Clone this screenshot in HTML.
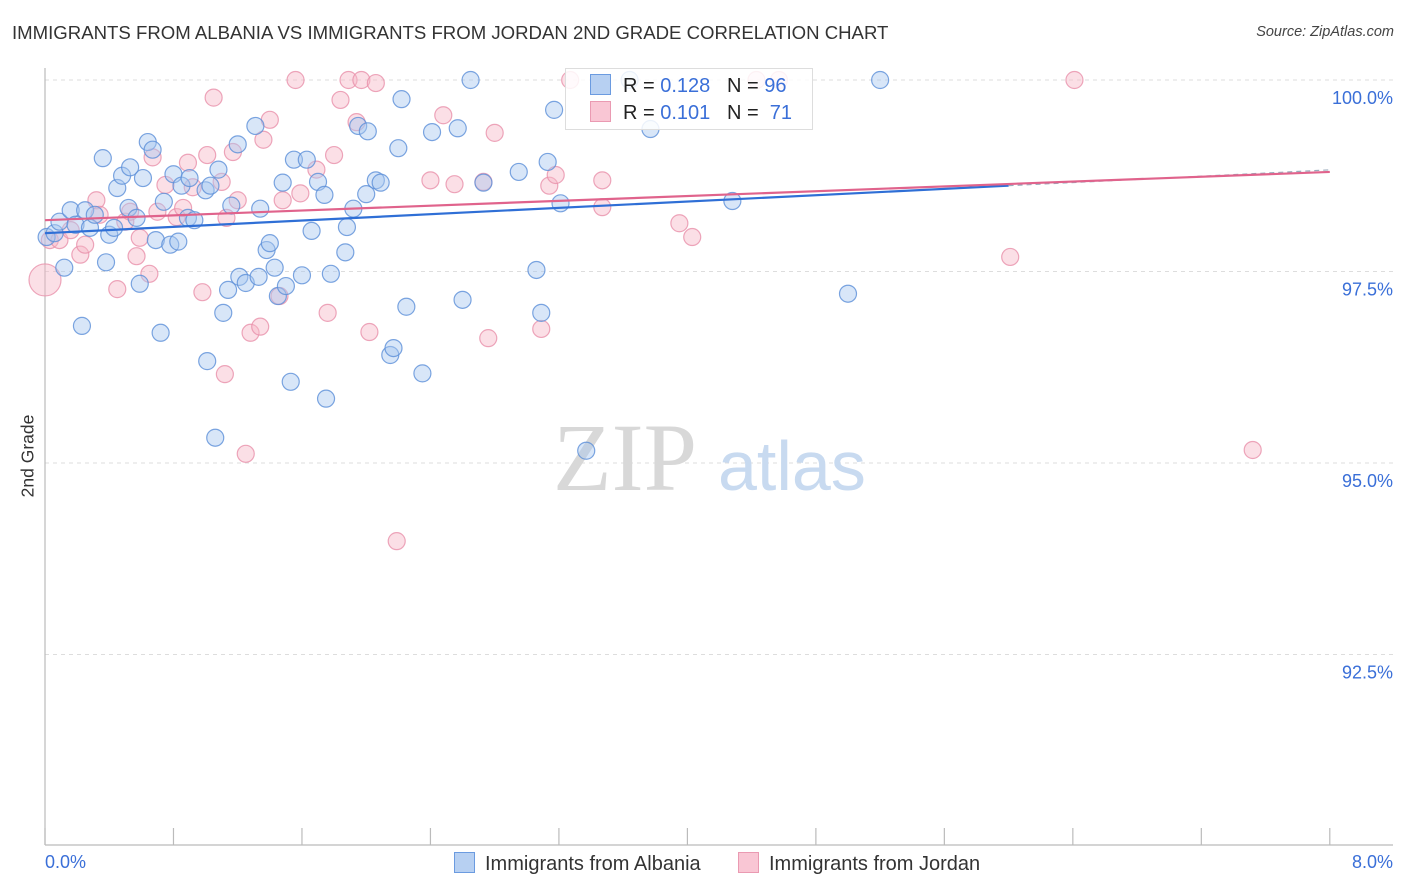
<!DOCTYPE html>
<html><head><meta charset="utf-8">
<style>
body{margin:0;background:#fff;font-family:"Liberation Sans",sans-serif;}
#wrap{position:relative;width:1406px;height:892px;overflow:hidden;}
.t{position:absolute;white-space:nowrap;}
</style></head>
<body>
<div id="wrap">
<div class="t" style="left:12px;top:22px;font-size:18.6px;color:#333;">IMMIGRANTS FROM ALBANIA VS IMMIGRANTS FROM JORDAN 2ND GRADE CORRELATION CHART</div>
<div class="t" style="right:12px;top:24px;font-size:14.5px;color:#444;font-style:italic;">Source: ZipAtlas.com</div>
<svg id="svg" width="1406" height="892" style="position:absolute;left:0;top:0"></svg>
</div>
<script>
const blueX=[.01,.06,.09,.12,.16,.19,.23,.25,.28,.31,.36,.38,.40,.43,.45,.48,.52,.53,.57,.59,.61,.64,.67,.69,.72,.74,.78,.80,.83,.85,.89,.90,.93,1.00,1.03,1.01,1.06,1.08,1.11,1.14,1.16,1.20,1.21,1.25,1.31,1.33,1.34,1.38,1.40,1.43,1.45,1.48,1.50,1.53,1.55,1.60,1.63,1.66,1.70,1.74,1.75,1.78,1.87,1.88,1.92,1.95,2.00,2.01,2.06,2.09,2.15,2.17,2.20,2.22,2.25,2.35,2.41,2.57,2.60,2.65,2.73,2.95,3.06,3.09,3.13,3.17,3.21,3.37,3.77,4.28,5.00,5.20,3.64];
const blueY=[97.95,98.00,98.15,97.55,98.30,98.11,96.79,98.30,98.07,98.24,98.98,97.62,97.98,98.07,98.59,98.75,98.33,98.86,98.20,97.34,98.72,99.19,99.09,97.91,96.70,98.41,97.85,98.77,97.89,98.62,98.20,98.72,98.17,98.56,98.62,96.33,95.33,98.83,96.96,97.26,98.36,99.16,97.43,97.35,99.40,97.43,98.32,97.78,97.87,97.55,97.18,98.66,97.31,96.06,98.96,97.45,98.96,98.03,98.67,98.50,95.84,97.47,97.75,98.08,98.32,99.40,98.51,99.33,98.69,98.66,96.41,96.50,99.11,99.75,97.04,96.17,99.32,99.37,97.13,100.0,98.66,98.80,97.52,96.96,98.93,99.61,98.39,95.16,99.36,98.42,97.21,100.0,100.0];
const pinkX=[.03,.09,.16,.22,.25,.32,.34,.45,.50,.53,.57,.59,.65,.67,.70,.75,.82,.86,.89,.92,.98,1.01,1.05,1.10,1.12,1.13,1.17,1.20,1.25,1.28,1.34,1.36,1.40,1.46,1.48,1.56,1.59,1.69,1.76,1.80,1.84,1.89,1.94,1.97,2.02,2.06,2.19,2.40,2.48,2.55,2.73,2.76,2.80,3.09,3.14,3.18,3.27,3.47,3.47,3.95,4.03,4.43,4.57,6.01,6.41,7.52];
const pinkY=[97.91,97.91,98.04,97.72,97.85,98.43,98.24,97.27,98.15,98.28,97.70,97.94,97.47,98.99,98.28,98.63,98.21,98.33,98.92,98.60,97.23,99.02,99.77,98.67,96.16,98.20,99.06,98.43,95.12,96.70,96.78,99.22,99.48,97.18,98.43,100.0,98.52,98.83,96.96,99.02,99.74,100.0,99.45,100.0,96.71,99.96,93.98,98.69,99.54,98.64,98.67,96.63,99.31,96.75,98.62,98.76,100.0,98.34,98.69,98.13,97.95,100.0,100.0,97.69,100.0,95.17];
const bigPink=[0.0,97.39];
const blueTrend=[98.00,98.62]; // at x=0 and x=6.0
const pinkTrend=[98.17,98.80]; // at x=0 and x=8
const yTicks=[100,97.5,95,92.5];
const yTickLabels=["100.0%","97.5%","95.0%","92.5%"];
const xTicks=[0,0.8,1.6,2.4,3.2,4.0,4.8,5.6,6.4,7.2,8.0];

const X=p=>45+p*160.6, Y=v=>80+(100-v)*76.6;
const svg=document.getElementById('svg');const NS='http://www.w3.org/2000/svg';
function mk(tag,attrs,parent){const e=document.createElementNS(NS,tag);for(const k in attrs)e.setAttribute(k,attrs[k]);(parent||svg).appendChild(e);return e;}

yTicks.forEach((v,i)=>{
 const g=mk('line',{x1:45,x2:1393,y1:Y(v),y2:Y(v),stroke:'#ddd','stroke-dasharray':'4,4','stroke-width':1});
 
 
 const t=mk('text',{x:1393,y:Y(v)+24,'text-anchor':'end','font-size':18,fill:'#3a6fd8','font-family':'Liberation Sans, sans-serif'});
 t.textContent=yTickLabels[i];
 
 
});
const ax=mk('line',{x1:45,x2:45,y1:68,y2:845,stroke:'#bbb','stroke-width':1.2});


const bx=mk('line',{x1:45,x2:1393,y1:845,y2:845,stroke:'#bbb','stroke-width':1.2});


xTicks.forEach(p=>{
 const l=mk('line',{x1:X(p),x2:X(p),y1:828,y2:845,stroke:'#bbb','stroke-width':1.2});
 
 
});
const wm=mk('text',{x:553,y:490,'font-size':96,fill:'#d8d8d8','font-family':'Liberation Serif, serif'});wm.textContent='ZIP';


const wm2=mk('text',{x:718,y:490,'font-size':70,fill:'#c8daf0','font-family':'Liberation Sans, sans-serif'});wm2.textContent='atlas';



function dot(x,y,r,fill,stroke,name){const c=mk('circle',{cx:X(x),cy:Y(y),r:r,fill:fill,'fill-opacity':0.45,stroke:stroke,'stroke-width':1.2,'stroke-opacity':0.8});
 
 }
dot(bigPink[0],bigPink[1],16,'#f6b7c8','#e890aa','jordan-point');
pinkX.forEach((x,i)=>dot(x,pinkY[i],8.5,'#f6b7c8','#e890aa','jordan-point'));
blueX.forEach((x,i)=>dot(x,blueY[i],8.5,'#a9c8f0','#5b8fd8','albania-point'));

const bl=mk('line',{x1:X(0),y1:Y(blueTrend[0]),x2:X(6.0),y2:Y(blueTrend[1]),stroke:'#2f6fd6','stroke-width':2.2});


const slope=(blueTrend[1]-blueTrend[0])/6.0;
const bd=mk('line',{x1:X(6.0),y1:Y(blueTrend[1]),x2:X(8),y2:Y(blueTrend[0]+slope*8),stroke:'#9ab','stroke-width':1.2,'stroke-dasharray':'5,4'});


const pl=mk('line',{x1:X(0),y1:Y(pinkTrend[0]),x2:X(8),y2:Y(pinkTrend[1]),stroke:'#e0638c','stroke-width':2.2});


</script>
<div class="t" style="left:565px;top:68px;width:248px;height:62px;border:1px solid #ddd;background:rgba(255,255,255,0.85);box-sizing:border-box;"></div>
<div class="t" style="left:590px;top:74px;font-size:20px;color:#222;"><span style="display:inline-block;width:19px;height:19px;background:#b7d0f2;border:1px solid #6b9be0;vertical-align:-3px;margin-right:12px;"></span>R = <span style="color:#3a6fd8">0.128</span>&nbsp;&nbsp;&nbsp;N = <span style="color:#3a6fd8">96</span></div>
<div class="t" style="left:590px;top:101px;font-size:20px;color:#222;"><span style="display:inline-block;width:19px;height:19px;background:#f9c6d4;border:1px solid #ea9ab2;vertical-align:-3px;margin-right:12px;"></span>R = <span style="color:#3a6fd8">0.101</span>&nbsp;&nbsp;&nbsp;N = &nbsp;<span style="color:#3a6fd8">71</span></div>
<div class="t" style="left:28px;top:456px;font-size:17.5px;color:#333;transform:translate(-50%,-50%) rotate(-90deg);">2nd Grade</div>
<div class="t" style="left:45px;top:852px;font-size:18px;color:#3a6fd8;">0.0%</div>
<div class="t" style="right:13px;top:852px;font-size:18px;color:#3a6fd8;">8.0%</div>
<div class="t" style="left:454px;top:852px;font-size:20px;color:#333;"><span style="display:inline-block;width:19px;height:19px;background:#b7d0f2;border:1px solid #6b9be0;vertical-align:-3px;margin-right:10px;"></span>Immigrants from Albania</div>
<div class="t" style="left:738px;top:852px;font-size:20px;color:#333;"><span style="display:inline-block;width:19px;height:19px;background:#f9c6d4;border:1px solid #ea9ab2;vertical-align:-3px;margin-right:10px;"></span>Immigrants from Jordan</div>
</body></html>
